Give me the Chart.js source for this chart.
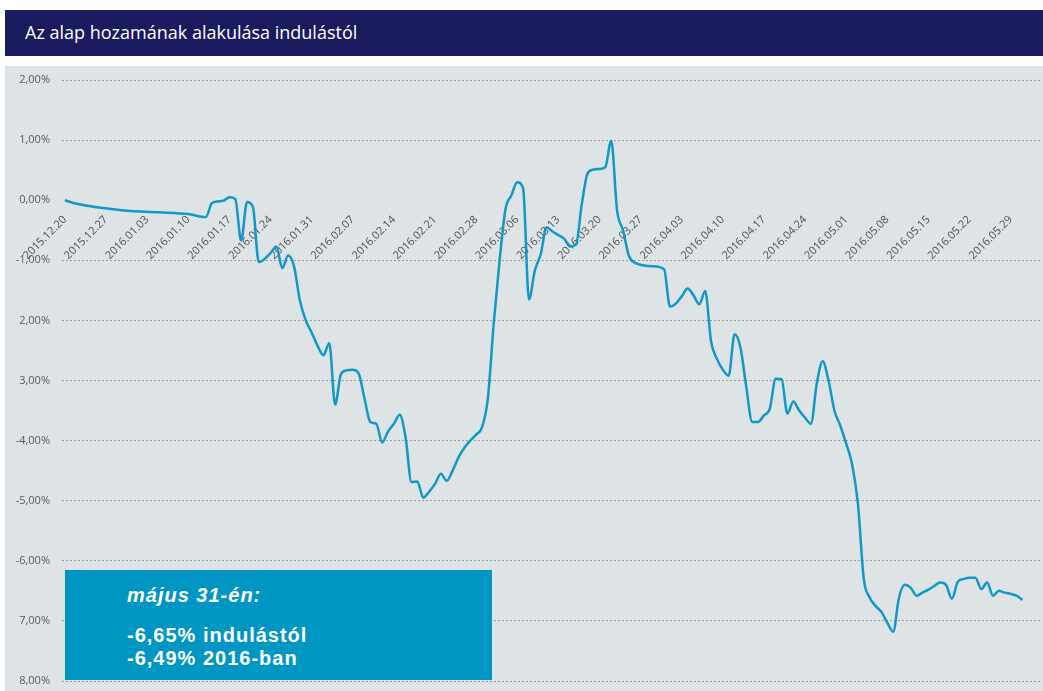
<!DOCTYPE html>
<html>
<head>
<meta charset="utf-8">
<script src="https://cdn.jsdelivr.net/npm/chart.js@4.4.0/dist/chart.umd.min.js"></script>
<style>
  body { margin: 0; width: 1043px; height: 691px; background: #fff; position: relative; overflow: hidden; font-family: "Open Sans", sans-serif; }
  .title { position: absolute; left: 5px; top: 10px; width: 1038px; height: 46px; background: #1a1a5e; color: #fff; font-size: 18px; line-height: 44px; padding-left: 20px; box-sizing: border-box; }
  .panel { position: absolute; left: 5px; top: 66px; right: 0; bottom: 0; background: #dee3e6; }
  #wrap { position: absolute; left: 0; top: 0; width: 1043px; height: 691px; }
  .info { position: absolute; left: 65px; top: 570px; width: 427px; height: 110px; background: #0096c4; color: #fff; font-family: "Liberation Sans", Arial, sans-serif; font-weight: bold; font-size: 20px; letter-spacing: 1px; box-sizing: border-box; padding-left: 62px; }
  .info .head { position: absolute; top: 14px; font-style: italic; }
  .info .l1 { position: absolute; top: 54px; }
  .info .l2 { position: absolute; top: 77px; }
</style>
</head>
<body>
<div class="title">Az alap hozamának alakulása indulástól</div>
<div class="panel"></div>
<div id="wrap"><canvas id="chart" width="1043" height="691"></canvas></div>
<div class="info">
  <div class="head">május 31-én:</div>
  <div class="l1">-6,65% indulástól</div>
  <div class="l2">-6,49% 2016-ban</div>
</div>
<script>
// napok 2015.12.20-tól
const days = [0, 2, 10, 16, 21, 24, 25, 26, 27, 28, 29, 30, 31, 32, 33, 35, 36, 37, 38, 39,
  40, 41, 42, 43, 44, 45, 46, 47, 48, 49, 50, 51, 52, 53, 54, 55, 56, 57, 58, 59,
  60, 61, 62, 63, 64, 65, 66, 67, 68, 69, 70, 71, 72, 73, 74, 75, 76, 77, 78, 79,
  80, 81, 82, 83, 84, 85, 86, 87, 88, 89, 90, 91, 92, 93, 94, 95, 96, 97, 100, 102,
  103, 104, 105, 106, 107, 108, 109, 110, 111, 112, 113, 114, 115, 116, 117, 118, 119, 120, 121, 122,
  123, 124, 125, 126, 127, 128, 129, 130, 131, 132, 133, 134, 135, 136, 137, 138, 139, 140, 141, 142,
  143, 144, 145, 146, 147, 148, 149, 150, 151, 152, 153, 154, 155, 156, 157, 158, 159, 160, 161, 162, 163];

// hozam (%)
const returns = [0.00, -0.06, -0.17, -0.20, -0.23, -0.28, -0.05, -0.02, -0.01, 0.05, 0.02, -0.67, -0.03, -0.11, -1.03, -0.88, -0.77, -1.13, -0.92, -1.10,
  -1.67, -2.00, -2.20, -2.42, -2.58, -2.38, -3.40, -2.89, -2.83, -2.82, -2.88, -3.30, -3.69, -3.72, -4.03, -3.85, -3.72, -3.57, -3.95, -4.69,
  -4.68, -4.95, -4.85, -4.72, -4.55, -4.67, -4.50, -4.28, -4.12, -4.00, -3.90, -3.78, -3.30, -2.05, -1.00, -0.15, 0.08, 0.30, 0.20, -1.65,
  -1.17, -0.90, -0.45, -0.52, -0.58, -0.64, -0.77, -0.74, -0.06, 0.45, 0.51, 0.52, 0.55, 0.99, -0.17, -0.50, -0.92, -1.04, -1.10, -1.15,
  -1.77, -1.72, -1.60, -1.47, -1.58, -1.73, -1.51, -2.35, -2.64, -2.82, -2.92, -2.23, -2.45, -3.11, -3.69, -3.69, -3.58, -3.47, -2.97, -2.98,
  -3.55, -3.35, -3.50, -3.62, -3.72, -3.05, -2.68, -3.00, -3.50, -3.75, -4.05, -4.39, -5.05, -6.30, -6.61, -6.75, -6.85, -7.03, -7.18, -6.61,
  -6.40, -6.45, -6.58, -6.53, -6.48, -6.42, -6.36, -6.40, -6.63, -6.35, -6.30, -6.28, -6.28, -6.47, -6.36, -6.58, -6.50, -6.53, -6.55, -6.58, -6.65];

const weekLabels = ["2015.12.20", "2015.12.27", "2016.01.03", "2016.01.10", "2016.01.17", "2016.01.24",
  "2016.01.31", "2016.02.07", "2016.02.14", "2016.02.21", "2016.02.28", "2016.03.06", "2016.03.13",
  "2016.03.20", "2016.03.27", "2016.04.03", "2016.04.10", "2016.04.17", "2016.04.24", "2016.05.01",
  "2016.05.08", "2016.05.15", "2016.05.22", "2016.05.29"];

// -8-tól 2-ig, ahogy a képen
const yLabels = ["8,00%", "7,00%", "-6,00%", "-5,00%", "-4,00%", "3,00%", "2,00%", "-1,00%", "0,00%", "1,00%", "2,00%"];

const tickFont = { family: "Open Sans", size: 11 };

new Chart(document.getElementById("chart"), {
  type: "line",
  data: {
    datasets: [{
      data: days.map((d, i) => ({ x: d, y: returns[i] })),
      borderColor: "#0f98c8",
      borderWidth: 2.5,
      pointRadius: 0,
      cubicInterpolationMode: "monotone",
      fill: false
    }]
  },
  options: {
    responsive: false,
    animation: false,
    layout: { padding: { left: 5, top: 80, right: 3, bottom: 10 } },
    plugins: { legend: { display: false }, tooltip: { enabled: false } },
    scales: {
      x: {
        type: "linear",
        position: { y: 0 },
        min: -0.5,
        max: 166,
        afterFit: (s) => { s.height = 0; },
        afterBuildTicks: (s) => { s.ticks = weekLabels.map((l, i) => ({ value: i * 7 })); },
        grid: { display: false },
        border: { display: false },
        ticks: {
          autoSkip: false,
          minRotation: 45,
          maxRotation: 45,
          padding: 5,
          color: "#505050",
          font: tickFont,
          callback: (v, i) => weekLabels[i]
        }
      },
      y: {
        min: -8,
        max: 2,
        afterFit: (s) => { s.width = 57; },
        border: { display: false, dash: [2, 2] },
        grid: {
          color: (c) => c.tick.value === 0 ? "rgba(0,0,0,0)" : "#9a9a9a",
          lineWidth: 1,
          drawTicks: true,
          tickLength: 12,
          tickColor: "rgba(0,0,0,0)"
        },
        ticks: {
          stepSize: 1,
          padding: 0,
          color: "#5a5a5a",
          font: tickFont,
          callback: (v, i) => yLabels[i]
        }
      }
    }
  }
});
</script>
</body>
</html>
